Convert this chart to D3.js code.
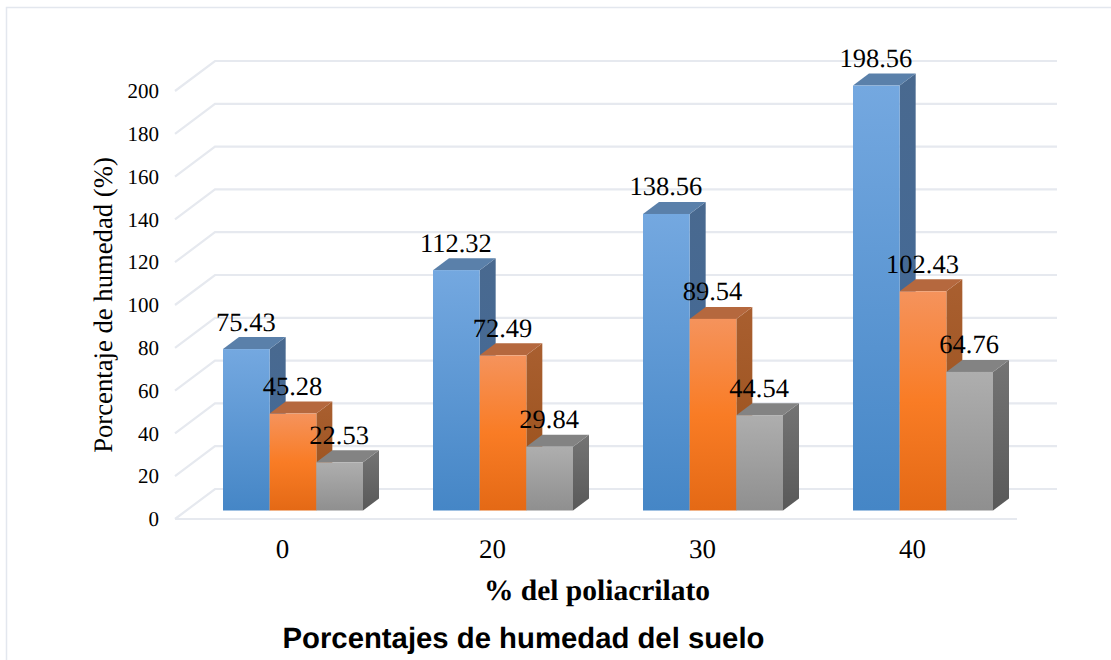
<!DOCTYPE html>
<html>
<head>
<meta charset="utf-8">
<script src="https://cdn.jsdelivr.net/npm/d3@7"></script>
<style>
  body { margin: 0; background: #fff; }
  svg { display: block; }
  text { fill: #000; font-family: "Liberation Serif", serif; text-rendering: geometricPrecision; }
</style>
</head>
<body>
<div id="chart"></div>
<script>
var categories = ["0", "20", "30", "40"]
var seriesA = [75.43, 112.32, 138.56, 198.56]
var seriesB = [45.28, 72.49, 89.54, 102.43]
var seriesC = [22.53, 29.84, 44.54, 64.76]
var yTicks = [0, 20, 40, 60, 80, 100, 120, 140, 160, 180, 200]

var width = 1111, height = 660
var svg = d3.select("#chart").append("svg")
    .attr("width", width)
    .attr("height", height)

// frame of the picture, only left and top show
svg.append("path")
    .attr("d", "M6.5,660V7.5H1111")
    .attr("fill", "none")
    .attr("stroke", "#e3e7ee")
    .attr("stroke-width", 1.5)

// 3d depth of the chart floor and of the bars
var floorDx = 40, floorDy = -30
var barDx = 16, barDy = -12
var barInsetY = -8.5

var x = d3.scaleBand()
    .domain(categories)
    .range([188, 1028])
    .paddingInner(0)
var y = d3.scaleLinear()
    .domain([0, 200])
    .range([519, 91])

var subgroups = ["a", "b", "c"]
var xSub = d3.scaleBand()
    .domain(subgroups)
    .range([35, 175])

var colors = {
  a: {top: "#5a80aa", side: ["#49698f", "#416a9b"], front: ["#74a8e0", "#4586c6"]},
  b: {top: "#b5683e", side: ["#a95f30", "#984f18"], front: ["#f5935c", "#f97c25", "#e46915"]},
  c: {top: "#838383", side: ["#747474", "#595959"], front: ["#aeaeae", "#8f8f8f"]}
}

// gradients
var defs = svg.append("defs")
function addGrad(id, stops) {
  var g = defs.append("linearGradient").attr("id", id)
      .attr("x1", 0).attr("y1", 0).attr("x2", 0).attr("y2", 1)
  stops.forEach(function(c, i) {
    g.append("stop").attr("offset", i / (stops.length - 1)).attr("stop-color", c)
  })
}
subgroups.forEach(function(k) {
  addGrad("front-" + k, colors[k].front)
  addGrad("side-" + k, colors[k].side)
})

// grid
var grid = svg.append("g")
    .attr("fill", "none")
    .attr("stroke", "#e6e9ef")
    .attr("stroke-width", 2.2)
grid.selectAll("path")
    .data(yTicks)
    .enter().append("path")
    .attr("d", function(d) {
      var x0 = 175, x1 = 1057
      return "M" + x0 + "," + y(d) + "L" + (x0 + floorDx) + "," + (y(d) + floorDy) + "L" + x1 + "," + (y(d) + floorDy)
    })
grid.append("line")
    .attr("x1", 175).attr("x2", 1017)
    .attr("y1", y(0)).attr("y2", y(0))

// y axis labels
var yAxis = svg.append("g")
    .attr("transform", "translate(175,0)")
    .call(d3.axisLeft(y).tickValues(yTicks).tickSize(0).tickPadding(16))
yAxis.select(".domain").remove()
yAxis.selectAll("text")
    .style("font-family", "'Liberation Serif', serif")
    .style("font-size", "21px")
    .attr("dy", "0.32em")

// x axis labels
var xAxis = svg.append("g")
    .attr("transform", "translate(-10.5,519)")
    .call(d3.axisBottom(x).tickSize(0).tickPadding(20))
xAxis.select(".domain").remove()
xAxis.selectAll("text")
    .style("font-family", "'Liberation Serif', serif")
    .style("font-size", "27px")
    .attr("dy", "0.71em")

// bars, drawn group by group so the neighbour covers the side faces
var rows = categories.map(function(c, i) {
  return [
    {cat: c, key: "a", value: seriesA[i]},
    {cat: c, key: "b", value: seriesB[i]},
    {cat: c, key: "c", value: seriesC[i]}
  ]
})
var groups = svg.append("g").selectAll("g")
    .data(rows)
    .enter().append("g")
    .attr("transform", function(d) { return "translate(" + x(d[0].cat) + "," + barInsetY + ")" })
var bars = groups.selectAll("g")
    .data(function(d) { return d })
    .enter().append("g")

bars.append("path") // side face
    .attr("fill", function(d) { return "url(#side-" + d.key + ")" })
    .attr("d", function(d) {
      var r = xSub(d.key) + xSub.bandwidth()
      return "M" + r + "," + y(d.value) + "l" + barDx + "," + barDy + "V" + (y(0) + barDy) + "l" + (-barDx) + "," + (-barDy) + "Z"
    })
bars.append("path") // top face
    .attr("fill", function(d) { return colors[d.key].top })
    .attr("d", function(d) {
      var l = xSub(d.key), w = xSub.bandwidth()
      return "M" + l + "," + y(d.value) + "l" + barDx + "," + barDy + "h" + w + "l" + (-barDx) + "," + (-barDy) + "Z"
    })
bars.append("rect") // front face
    .attr("x", function(d) { return xSub(d.key) })
    .attr("y", function(d) { return y(d.value) })
    .attr("width", xSub.bandwidth())
    .attr("height", function(d) { return y(0) - y(d.value) })
    .attr("fill", function(d) { return "url(#front-" + d.key + ")" })

// value labels go last, they sit over the bars
svg.append("g").selectAll("text")
    .data(d3.merge(rows))
    .enter().append("text")
    .attr("x", function(d) { return x(d.cat) + xSub(d.key) + xSub.bandwidth() / 2 - 0.5 })
    .attr("y", function(d) { return y(d.value) + barInsetY - 18.5 })
    .attr("text-anchor", "middle")
    .style("font-size", "26.5px")
    .text(function(d) { return d.value.toFixed(2) })

// titles
svg.append("text")
    .attr("transform", "translate(112,305)rotate(-90)")
    .attr("text-anchor", "middle")
    .style("font-size", "26.7px")
    .text("Porcentaje de humedad (%)")
svg.append("text")
    .attr("x", 597).attr("y", 600)
    .attr("text-anchor", "middle")
    .style("font-size", "29.5px")
    .style("font-weight", "bold")
    .text("% del poliacrilato")
svg.append("text")
    .attr("x", 523.5).attr("y", 648)
    .attr("text-anchor", "middle")
    .style("font-family", "'Liberation Sans', sans-serif")
    .style("font-size", "29.3px")
    .style("font-weight", "bold")
    .text("Porcentajes de humedad del suelo")
</script>
</body>
</html>
